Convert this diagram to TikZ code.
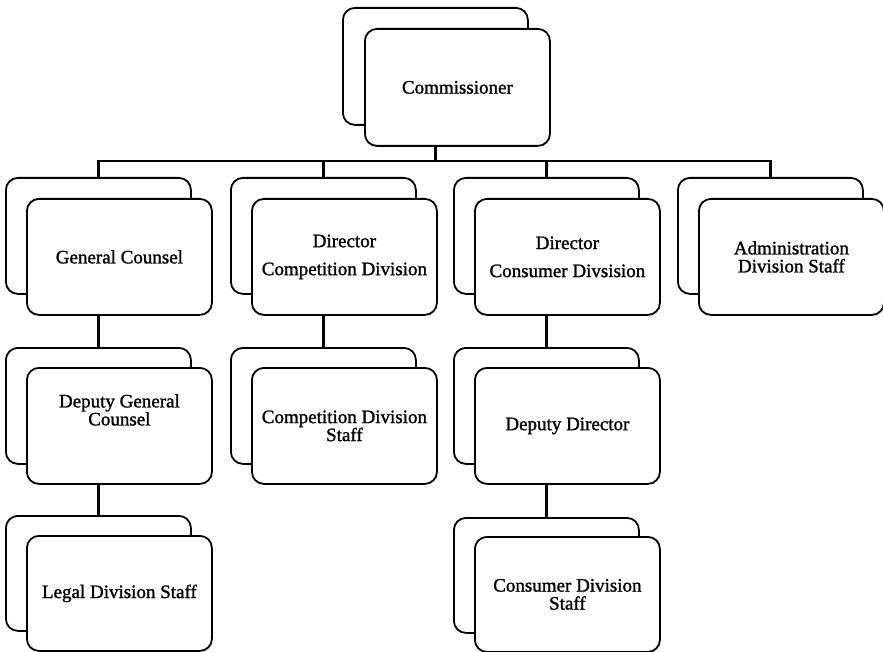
\documentclass[tikz,border=0pt]{standalone}
\usepackage{fontspec}
\setmainfont{Liberation Serif}
\newfontfamily\boxfont{Liberation Serif}[FakeBold=1.3]
\begin{document}
\begin{tikzpicture}[x=1pt,y=-1pt,
  box/.style={draw=black,line width=1.8pt,rounded corners=12pt,fill=white,
    minimum width=185pt,minimum height=116pt,inner sep=0pt,anchor=north west,
    align=center,font=\boxfont\fontsize{19}{18}\selectfont},
  txt/.style={align=center,inner sep=0pt,font=\boxfont\fontsize{19}{18}\selectfont},
  conn/.style={line width=2.8pt}]
\useasboundingbox (0,0) rectangle (883,652);
% Commissioner
\node[box,minimum height=117pt] (comb) at (342,7) {};
\node[box,minimum height=117pt] (com) at (364,28) {Commissioner};
% Row 1
\node[box] (gcb) at (5,177) {};
\node[box] (gc) at (26,198) {General Counsel};
\node[box] (compb) at (230,177) {};
\node[box] (comp) at (251,198) {Director\\[10pt]Competition Division};
\node[box] (consb) at (453,177) {};
\node[box] (cons) at (474,198) {Director\\[10pt]Consumer Divsision};
\node[box] (admb) at (677,177) {};
\node[box] (adm) at (698,198) {Administration\\Division Staff};
% Row 2
\node[box] (dgcb) at (5,347) {};
\node[box] (dgc) at (26,367) {};
\node[txt] (dgct) at ([yshift=16pt]dgc.center) {Deputy General\\Counsel};
\node[box] (cstb) at (230,347) {};
\node[box] (cst) at (251,367) {Competition Division\\Staff};
\node[box] (ddb) at (453,347) {};
\node[box] (dd) at (474,367) {Deputy Director};
% Row 3
\node[box,minimum height=115pt] (ldsb) at (5,515) {};
\node[box,minimum height=115pt] (lds) at (26,535) {Legal Division Staff};
\node[box,minimum height=115pt] (cdsb) at (453,517) {};
\node[box,minimum height=115pt] (cds) at (474,536) {Consumer Division\\Staff};
% Connectors
\coordinate (bar) at (0,161);
\draw[conn] (comb.north |- com.south) -- (comb.north |- bar);
\draw[conn] (gcb.north) -- (gcb.north |- bar) -- (admb.north |- bar) -- (admb.north);
\draw[conn] (compb.north |- bar) -- (compb.north);
\draw[conn] (consb.north |- bar) -- (consb.north);
\draw[conn] (gcb.north |- gc.south) -- (dgcb.north);
\draw[conn] (dgcb.north |- dgc.south) -- (ldsb.north);
\draw[conn] (compb.north |- comp.south) -- (cstb.north);
\draw[conn] (consb.north |- cons.south) -- (ddb.north);
\draw[conn] (ddb.north |- dd.south) -- (cdsb.north);
\end{tikzpicture}
\end{document}
